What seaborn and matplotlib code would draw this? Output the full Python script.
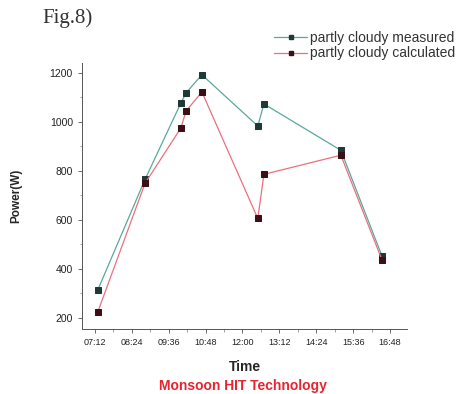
import matplotlib
matplotlib.use("Agg")
import matplotlib.pyplot as plt
import seaborn as sns
import pandas as pd
from matplotlib.ticker import MultipleLocator
from matplotlib.lines import Line2D

times = ["07:18", "08:50", "10:00", "10:10", "10:41", "12:30", "12:42", "15:12", "16:32"]
measured = [315, 765, 1077, 1118, 1192, 983, 1073, 884, 454]
calculated = [225, 749, 975, 1044, 1122, 606, 786, 864, 438]
series_names = ["partly cloudy measured", "partly cloudy calculated"]
tick_labels = ["07:12", "08:24", "09:36", "10:48", "12:00", "13:12", "14:24", "15:36", "16:48"]

def to_min(s):
    h, m = s.split(":")
    return int(h) * 60 + int(m)

df = pd.DataFrame({
    "Time": [to_min(t) for t in times] * 2,
    "Power": measured + calculated,
    "Series": [series_names[0]] * len(times) + [series_names[1]] * len(times),
})

sns.set_style("ticks")
plt.rcParams["font.family"] = ["Liberation Sans", "DejaVu Sans"]

fig = plt.figure(figsize=(4.63, 3.94), dpi=100)
ax = fig.add_axes([0.177, 0.165, 0.702, 0.675])

palette = {series_names[0]: "#5aa89a", series_names[1]: "#ec6f80"}
mfc = ["#1f3a36", "#3a0f16"]
sns.lineplot(data=df, x="Time", y="Power", hue="Series", palette=palette,
             marker="s", markersize=4, linewidth=0.9, ax=ax, legend=False)
for line, fc in zip(ax.lines, mfc):
    line.set_markerfacecolor(fc)
    line.set_markeredgecolor(fc)

ax.set_xlim(to_min("06:47"), to_min("17:21"))
ax.set_ylim(155, 1240)
ax.set_xticks([to_min(t) for t in tick_labels])
ax.set_xticklabels(tick_labels)
ax.xaxis.set_minor_locator(MultipleLocator(36))
ax.yaxis.set_major_locator(MultipleLocator(200))
ax.yaxis.set_minor_locator(MultipleLocator(100))
ax.tick_params(axis="both", which="major", length=3, width=0.6, colors="#555555", labelcolor="#222222")
ax.tick_params(axis="x", which="major", labelsize=6.5)
ax.tick_params(axis="y", which="major", labelsize=7.5)
ax.tick_params(axis="both", which="minor", length=1.8, width=0.5, colors="#777777")
for side in ["top", "right"]:
    ax.spines[side].set_visible(False)
for side in ["left", "bottom"]:
    ax.spines[side].set_color("#555555")
    ax.spines[side].set_linewidth(0.7)

ax.set_xlabel("Time", fontsize=10, fontweight="bold", labelpad=9)
ax.set_ylabel("Power(W)", fontsize=8.5, fontweight="bold", labelpad=20)

fig.text(0.525, 0.010, "Monsoon HIT Technology", color="#e8242f", fontsize=10, fontweight="bold", ha="center")
fig.text(0.092, 0.942, "Fig.8)", fontsize=15, family="Liberation Serif", color="#333333")

handles = [Line2D([0], [0], color=palette[n], lw=0.9, marker="s", markersize=3.5,
                  markerfacecolor=fc, markeredgecolor=fc) for n, fc in zip(series_names, mfc)]
fig.legend(handles, series_names, loc="upper left", bbox_to_anchor=(0.592, 0.922), frameon=False,
           fontsize=10, handlelength=2.4, handletextpad=0.2, labelspacing=0.12,
           borderpad=0, borderaxespad=0, labelcolor="#333333")

fig.savefig("out.png", dpi=100)
